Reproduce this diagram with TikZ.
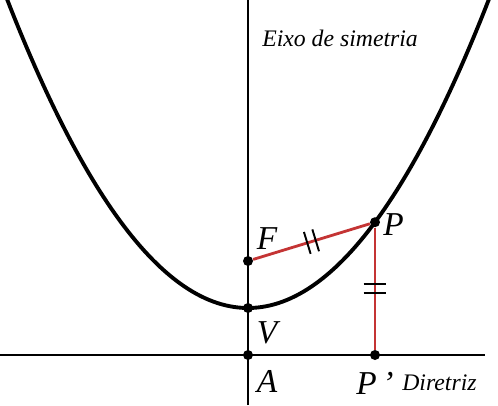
\documentclass[tikz,border=0pt]{standalone}
\usepackage{fontspec}
\setmainfont{Liberation Serif}
\usetikzlibrary{
    positioning,
    decorations.markings
}
\definecolor{vermelho}{RGB}{196,52,52}
\tikzset{
    ponto/.style={
        circle,
        fill=black,
        inner sep=0pt,
        minimum size=0.2cm
    },
    rotulo/.style={
        font=\fontsize{19}{20}\selectfont\itshape,
        inner sep=1pt
    },
    legenda/.style={
        font=\fontsize{13.5}{15}\selectfont\itshape,
        inner sep=0pt
    },
    eixo/.style={
        line width=1.4pt
    },
    curva/.style={
        line width=2.2pt
    },
    segmento/.style={
        vermelho,
        line width=1.6pt
    },
    iguais/.style={
        postaction={decorate},
        decoration={
            markings,
            mark=at position 0.5 with {
                \draw[black, line width=1.1pt]
                    (-2.5pt,-6.5pt) -- (-2.5pt,6.5pt)
                    (2.5pt,-6.5pt) -- (2.5pt,6.5pt);
            }
        }
    }
}

\begin{document}
\begin{tikzpicture}

    \useasboundingbox (-4.96,-1.0) rectangle (5.0,7.1);

    % Pontos
    \node[ponto] (A)  at (0,0)        {};
    \node[ponto] (V)  at (0,0.94)     {};
    \node[ponto] (F)  at (0,1.88)     {};
    \node[ponto] (P)  at (2.54,2.656) {};
    \node[ponto] (Pl) at (2.54,0)     {};

    % Extremos dos eixos
    \coordinate (topo) at (0,7.1);
    \coordinate (base) at (0,-1.0);
    \coordinate (esq)  at (-4.96,0);
    \coordinate (dir)  at (4.74,0);

    % Eixo de simetria e diretriz
    \draw[eixo] (base) -- (topo);
    \draw[eixo] (esq) -- (dir);

    % Parabola
    \draw[curva] plot[domain=-4.83:4.83, samples=120]
        (\x, {0.94+\x*\x/3.76});

    % Distancias iguais
    \draw[segmento, iguais] (F) -- (P);
    \draw[segmento, iguais] (P) -- (Pl);

    % Rotulos
    \node[rotulo, above right=0.12cm and 0.06cm of F] {F};
    \node[rotulo, below right=0.16cm and 0.06cm of V] {V};
    \node[rotulo, below right=0.2cm and 0.06cm of A] {A};
    \node[rotulo, below right=-0.28cm and 0.05cm of P] {P};
    \node[rotulo, below=0.2cm of Pl] {P\,’};

    \node[legenda, anchor=west] (simetria) at (0.28,6.34) {Eixo de simetria};
    \node[legenda, anchor=west] (diretriz) at (3.08,-0.56) {Diretriz};

\end{tikzpicture}
\end{document}
